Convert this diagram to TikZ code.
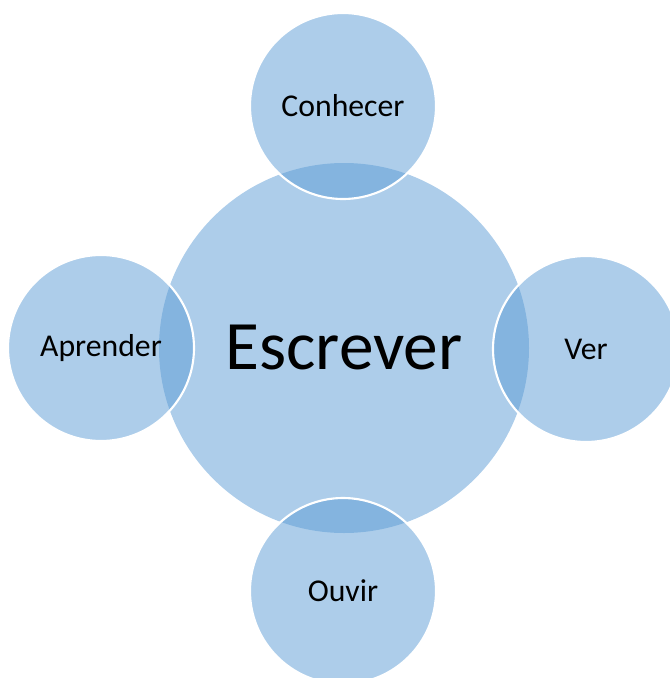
\documentclass[tikz,border=0pt]{standalone}
\usepackage{fontspec}
\setmainfont{Carlito}
\definecolor{accent}{HTML}{5B9BD5}
\begin{document}
\begin{tikzpicture}[x=0.75pt,y=-0.75pt,
  bubble/.style={circle,fill=accent,fill opacity=0.5,text opacity=1,inner sep=0pt},
  small/.style={bubble,draw=white,line width=1.6pt,minimum size=186*0.75pt,font=\fontsize{23.8}{28}\selectfont},
  big/.style={bubble,minimum size=370*0.75pt,font=\fontsize{52}{62}\selectfont}]
\useasboundingbox (0,0) rectangle (669,678);
\node[big] (esc) at (344,348) {Escrever};
\node[small] (con) at (343,106) {Conhecer};
\node[small] (apr) at (101,348) {Aprender};
\node[small] (ver) at (586,349) {Ver};
\node[small] (ouv) at (343,591) {Ouvir};
\end{tikzpicture}
\end{document}
